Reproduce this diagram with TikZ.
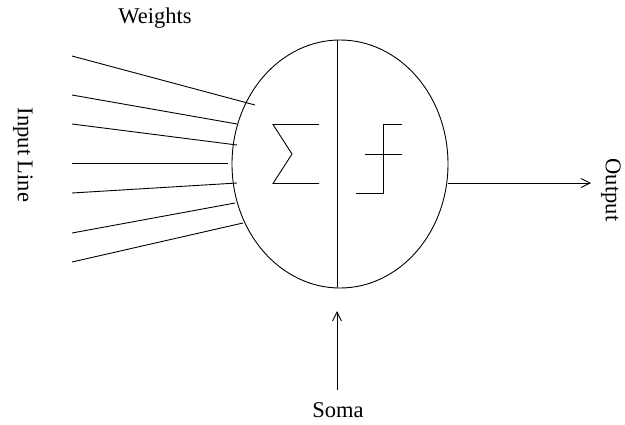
\documentclass[tikz,border=0pt]{standalone}
\usepackage{fontspec}
\setmainfont{Liberation Serif}
\usetikzlibrary{arrows.meta,shapes.geometric}
\begin{document}
\begin{tikzpicture}[x=1pt,y=-1pt,line width=0.9pt,
  lbl/.style={font=\fontsize{22.5}{26}\selectfont,inner sep=0pt},
  arr/.style={-{Straight Barb[length=9pt,width=9pt]}}]
\useasboundingbox (0,0) rectangle (625,424);
\node[ellipse,draw,minimum width=216pt,minimum height=248pt,inner sep=0pt] (cell) at (340,164) {};
\coordinate (dtop) at (337,40);
\coordinate (dbot) at (337,287);
\draw (dtop) -- (dbot);
% inputs
\foreach \i/\xa/\ya/\xb/\yb in {1/72/56/255/105,2/72/95/237/124,3/72/124/237/145,4/72/163/228/163,5/72/193/237/183,6/72/233/235/203,7/72/262/243/223}{
  \coordinate (in\i) at (\xa,\ya);
  \coordinate (w\i) at (\xb,\yb);
  \draw (in\i) -- (w\i);
}
% sigma
\coordinate (s1) at (319,124.5);
\coordinate (s2) at (273,124.5);
\coordinate (s3) at (292,154);
\coordinate (s4) at (273,183.5);
\coordinate (s5) at (319,183.5);
\draw (s1) -- (s2) -- (s3) -- (s4) -- (s5);
% step
\coordinate (t1) at (356,193);
\coordinate (t2) at (383,193);
\coordinate (t3) at (383,124);
\coordinate (t4) at (402,124);
\coordinate (c1) at (365,154);
\coordinate (c2) at (402,154);
\draw (t1) -- (t2) -- (t3) -- (t4);
\draw (c1) -- (c2);
% output
\coordinate (o1) at (448,183);
\coordinate (o2) at (591,183);
\draw[arr] (o1) -- (o2);
% soma arrow
\coordinate (a1) at (337,390);
\coordinate (a2) at (337,311);
\draw[arr] (a1) -- (a2);
% labels
\node[lbl] (weights) at (155,18) {Weights};
\node[lbl] (soma) at (338,410) {Soma};
\node[lbl,rotate=-90] (output) at (611,190) {Output};
\node[lbl,rotate=-90] (input) at (23,155) {Input Line};
\end{tikzpicture}
\end{document}
